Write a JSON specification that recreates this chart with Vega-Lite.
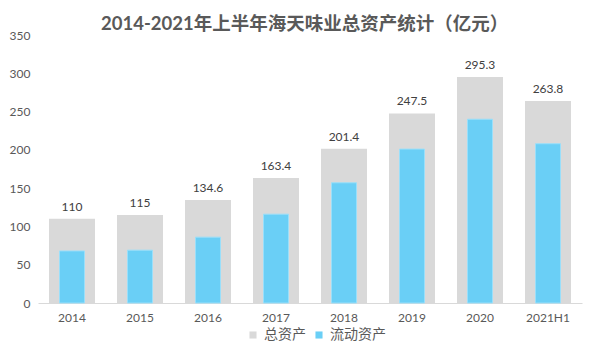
{
  "$schema": "https://vega.github.io/schema/vega-lite/v6.json",
  "autosize": {"type": "none"},
  "width": 544,
  "height": 268,
  "padding": {"left": 38, "top": 35, "right": 24, "bottom": 52},
  "background": "#ffffff",
  "title": {
    "text": "2014-2021年上半年海天味业总资产统计（亿元）",
    "anchor": "start",
    "frame": "group",
    "dx": 63,
    "offset": -4,
    "font": "Lato, 'Noto Sans CJK SC'",
    "fontSize": 18.5,
    "fontWeight": "bold",
    "color": "#595959"
  },
  "data": {
    "values": [
      {"year": "2014", "type": "总资产", "value": 110},
      {"year": "2015", "type": "总资产", "value": 115},
      {"year": "2016", "type": "总资产", "value": 134.6},
      {"year": "2017", "type": "总资产", "value": 163.4},
      {"year": "2018", "type": "总资产", "value": 201.4},
      {"year": "2019", "type": "总资产", "value": 247.5},
      {"year": "2020", "type": "总资产", "value": 295.3},
      {"year": "2021H1", "type": "总资产", "value": 263.8},
      {"year": "2014", "type": "流动资产", "value": 68},
      {"year": "2015", "type": "流动资产", "value": 69},
      {"year": "2016", "type": "流动资产", "value": 86},
      {"year": "2017", "type": "流动资产", "value": 116},
      {"year": "2018", "type": "流动资产", "value": 157},
      {"year": "2019", "type": "流动资产", "value": 201},
      {"year": "2020", "type": "流动资产", "value": 240},
      {"year": "2021H1", "type": "流动资产", "value": 208}
    ]
  },
  "encoding": {
    "x": {
      "field": "year",
      "type": "nominal",
      "sort": null,
      "scale": {"paddingInner": 0, "paddingOuter": 0},
      "axis": {
        "title": null,
        "labelAngle": 0,
        "ticks": false,
        "domain": true,
        "domainColor": "#D9D9D9",
        "labelPadding": 9,
        "labelFont": "Lato, 'Noto Sans CJK SC'",
        "labelFontSize": 12,
        "labelColor": "#595959"
      }
    },
    "y": {
      "field": "value",
      "type": "quantitative",
      "scale": {"domain": [0, 350]},
      "axis": {
        "title": null,
        "values": [0, 50, 100, 150, 200, 250, 300, 350],
        "grid": false,
        "domain": false,
        "ticks": false,
        "labelPadding": 8,
        "labelFont": "Lato, 'Noto Sans CJK SC'",
        "labelFontSize": 12,
        "labelColor": "#595959"
      }
    }
  },
  "layer": [
    {
      "transform": [{"filter": "datum.type === '总资产'"}],
      "mark": {"type": "bar", "width": 46},
      "encoding": {
        "color": {
          "field": "type",
          "type": "nominal",
          "scale": {"domain": ["总资产", "流动资产"], "range": ["#D9D9D9", "#6ACFF6"]},
          "legend": {
            "title": null,
            "orient": "none",
            "legendX": 208,
            "legendY": 293,
            "direction": "horizontal",
            "symbolType": "square",
            "symbolSize": 50,
            "symbolStrokeWidth": 0,
            "symbolOpacity": 1,
            "labelFont": "'Noto Sans CJK SC'",
            "labelFontSize": 14,
            "labelColor": "#595959",
            "columnPadding": 6
          }
        }
      }
    },
    {
      "transform": [{"filter": "datum.type === '流动资产'"}],
      "mark": {"type": "bar", "width": 25, "stroke": "#9ADFFA", "strokeWidth": 1},
      "encoding": {
        "color": {"field": "type", "type": "nominal"}
      }
    },
    {
      "transform": [{"filter": "datum.type === '总资产'"}],
      "mark": {
        "type": "text",
        "dy": -12,
        "font": "Lato",
        "fontSize": 12,
        "color": "#404040"
      },
      "encoding": {
        "text": {"field": "value", "type": "quantitative"}
      }
    }
  ],
  "config": {"view": {"stroke": null}}
}
